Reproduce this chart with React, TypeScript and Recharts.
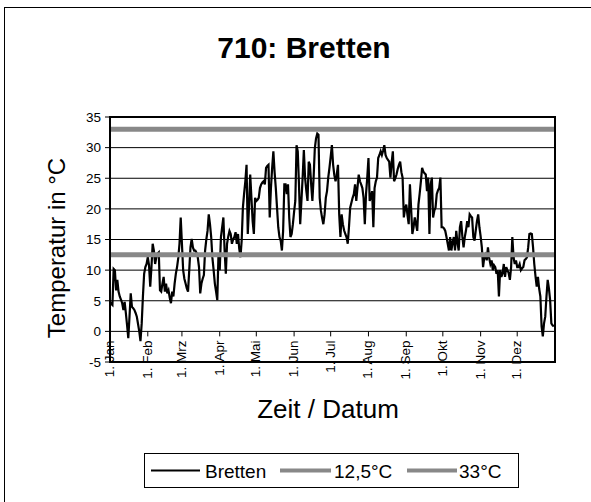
import { LineChart, Line, XAxis, YAxis, CartesianGrid, ReferenceLine } from "recharts";

const chartTitle = "710: Bretten";
const seriesName = "Bretten";
const xTitle = "Zeit / Datum";
const yTitle = "Temperatur in °C";

const monthNames = ["Jan", "Feb", "Mrz", "Apr", "Mai", "Jun", "Jul", "Aug", "Sep", "Okt", "Nov", "Dez"];
const monthStartDays = [0, 31, 59, 90, 120, 151, 181, 212, 243, 273, 304, 334];
const yearDays = 365;
const yTicks = [-5, 0, 5, 10, 15, 20, 25, 30, 35];

const thresholdLow = 12.5;
const thresholdHigh = 33;
const thresholdLabels = ["12,5°C", "33°C"];

// daily mean temperature, 1. Jan .. 31. Dez
const dailyTemps = [
  4.8, 4.5, 4.3, 10.2, 10.0, 6.7, 8.4, 6.5, 5.7, 5.2,
  4.6, 3.5, 4.8, 3.0, 1.0, -1.1, 2.4, 6.2, 4.0, 3.8,
  3.5, 3.0, 2.4, 1.2, 0.0, -1.6, 1.3, 5.7, 9.4, 10.5,
  11.0, 12.1, 10.8, 7.3, 10.5, 14.3, 13.2, 11.0, 12.1, 12.7,
  12.9, 6.7, 6.5, 7.8, 8.9, 6.5, 7.8, 6.2, 6.7, 5.5,
  4.6, 6.5, 5.7, 7.8, 9.4, 10.5, 12.0, 14.3, 18.6, 14.3,
  10.0, 8.6, 7.8, 7.0, 6.5, 10.0, 13.7, 15.1, 13.7, 13.2,
  13.2, 12.8, 12.1, 10.5, 6.2, 7.8, 8.6, 9.2, 13.2, 15.0,
  16.4, 19.1, 17.5, 15.4, 12.0, 10.0, 7.8, 6.5, 5.1, 12.7,
  10.0, 15.4, 17.0, 18.6, 13.2, 9.4, 14.3, 15.5, 16.4, 15.9,
  14.3, 15.0, 15.4, 16.2, 14.3, 15.9, 13.5, 12.1, 14.8, 20.2,
  22.5, 24.5, 27.2, 15.9, 20.2, 25.6, 21.8, 18.0, 15.9, 21.8,
  21.3, 21.5, 21.8, 23.4, 24.0, 24.3, 24.5, 24.0, 26.7, 27.0,
  27.2, 18.6, 23.4, 26.7, 29.4, 26.0, 23.4, 20.2, 17.0, 15.4,
  14.8, 13.2, 16.4, 24.0, 24.0, 22.4, 24.0, 18.6, 15.4, 15.9,
  17.5, 19.5, 21.3, 30.4, 29.4, 24.0, 17.5, 21.3, 25.1, 29.6,
  25.1, 23.0, 21.3, 27.7, 27.2, 24.0, 21.3, 25.1, 29.9, 31.5,
  32.3, 32.1, 21.8, 19.7, 18.5, 17.5, 19.1, 21.8, 22.9, 25.1,
  26.7, 28.5, 30.4, 27.2, 25.5, 24.5, 25.6, 27.2, 19.1, 15.4,
  19.1, 17.5, 16.5, 15.9, 15.4, 14.3, 17.0, 20.2, 21.0, 21.8,
  22.4, 24.0, 21.3, 23.5, 25.6, 24.5, 24.0, 23.4, 21.8, 17.5,
  22.4, 25.1, 28.3, 21.3, 22.0, 22.9, 17.0, 23.4, 24.5, 25.1,
  28.3, 28.8, 29.4, 28.8, 29.5, 30.4, 28.8, 28.3, 28.0, 27.7,
  25.1, 27.5, 29.4, 24.5, 25.0, 25.6, 26.5, 27.2, 27.7, 26.0,
  25.1, 18.6, 20.0, 20.7, 19.0, 17.5, 24.0, 20.0, 15.9, 17.0,
  18.6, 17.5, 16.4, 20.7, 22.5, 24.5, 26.7, 26.1, 25.8, 25.6,
  22.9, 25.1, 15.9, 24.0, 25.1, 18.6, 19.7, 20.2, 22.4, 23.0,
  23.4, 25.1, 17.0, 17.0, 16.8, 16.4, 15.4, 14.3, 13.2, 15.4,
  13.2, 14.5, 15.4, 13.2, 16.4, 14.5, 13.2, 17.0, 18.0, 15.5,
  13.7, 15.4, 16.5, 18.0, 17.0, 19.1, 18.8, 18.6, 15.4, 14.8,
  16.5, 18.0, 19.1, 17.0, 15.5, 13.7, 10.5, 12.1, 12.5, 11.6,
  13.7, 12.0, 11.0, 11.6, 10.0, 10.8, 10.5, 9.4, 10.0, 5.7,
  10.0, 8.9, 9.5, 11.0, 8.9, 10.5, 10.0, 9.5, 8.4, 10.5,
  15.4, 12.1, 11.0, 11.6, 10.5, 10.5, 11.0, 10.0, 10.3, 10.5,
  11.6, 11.8, 12.1, 13.7, 15.9, 16.0, 15.9, 13.7, 11.0, 9.0,
  7.3, 8.9, 7.0, 5.7, 0.8, -0.8, 1.3, 2.4, 5.7, 8.4,
  7.0, 5.1, 1.3, 1.0, 0.8,
];

const W = 591;
const H = 502;
const PLOT_TOP = 117;
const PLOT_BOTTOM = 362;
const PLOT_LEFT = 110;
const PLOT_RIGHT = 555;
const FONT = "'Liberation Sans', Arial, sans-serif";
const GRAY = "#888888";

const data = dailyTemps.map((t, i) => ({ day: i, temp: t }));
const yMin = yTicks[0];
const yMax = yTicks[yTicks.length - 1];

// month ticks sit on the 0 °C line, not the bottom of the plot
function MonthTick(props: any) {
  const { x, y, payload } = props;
  const pxPerDeg = (PLOT_BOTTOM - PLOT_TOP) / (yMax - yMin);
  const zeroY = y - (0 - yMin) * pxPerDeg;
  const idx = monthStartDays.indexOf(payload.value);
  return (
    <g>
      <line x1={x} x2={x} y1={zeroY} y2={zeroY + 5} stroke="#000" strokeWidth={1} />
      <text
        x={x + 4}
        y={zeroY + 9}
        transform={`rotate(-90, ${x + 4}, ${zeroY + 9})`}
        textAnchor="end"
        fontSize={13.5}
        fill="#000"
      >
        {`1. ${monthNames[idx]}`}
      </text>
    </g>
  );
}

export default function App() {
  return (
    <div style={{ position: "absolute", left: 0, top: 0, width: W, height: H, background: "#fff", fontFamily: FONT }}>
      <LineChart
        width={W}
        height={H}
        data={data}
        margin={{ top: PLOT_TOP, right: W - PLOT_RIGHT, bottom: H - PLOT_BOTTOM - 30, left: PLOT_LEFT - 60 }}
      >
        <CartesianGrid vertical={false} stroke="#000" strokeWidth={1} strokeOpacity={1} />
        <XAxis
          type="number"
          dataKey="day"
          domain={[0, yearDays]}
          ticks={monthStartDays}
          interval={0}
          height={30}
          axisLine={false}
          tickLine={false}
          tickSize={0}
          tickMargin={0}
          tick={<MonthTick />}
          allowDataOverflow
        />
        <YAxis
          type="number"
          domain={[yMin, yMax]}
          ticks={yTicks}
          interval={0}
          width={60}
          axisLine={false}
          tickLine={{ stroke: "#000" }}
          tickSize={5}
          tickMargin={4}
          tick={{ fill: "#000", fontSize: 13.5 }}
        />
        <Line
          type="linear"
          dataKey="temp"
          name={seriesName}
          stroke="#000"
          strokeWidth={2.2}
          dot={false}
          isAnimationActive={false}
        />
        <ReferenceLine y={thresholdLow} stroke={GRAY} strokeWidth={5} />
        <ReferenceLine y={thresholdHigh} stroke={GRAY} strokeWidth={5} />
      </LineChart>

      <svg width={W} height={H} style={{ position: "absolute", left: 0, top: 0, pointerEvents: "none" }}>
        <rect x={4.5} y={7.5} width={800} height={800} fill="none" stroke="#000" strokeWidth={1} />
        {/* plot frame */}
        <line x1={PLOT_LEFT} x2={PLOT_LEFT} y1={PLOT_TOP - 1} y2={PLOT_BOTTOM + 1} stroke="#000" strokeWidth={2} />
        <line x1={PLOT_RIGHT} x2={PLOT_RIGHT} y1={PLOT_TOP - 1} y2={PLOT_BOTTOM + 1} stroke="#000" strokeWidth={2} />
        <line x1={PLOT_LEFT - 1} x2={PLOT_RIGHT + 1} y1={PLOT_TOP} y2={PLOT_TOP} stroke="#000" strokeWidth={2} />
        <line x1={PLOT_LEFT - 1} x2={PLOT_RIGHT + 1} y1={PLOT_BOTTOM} y2={PLOT_BOTTOM} stroke="#000" strokeWidth={2} />
        <text x={304} y={58} textAnchor="middle" fontSize={30} fontWeight="bold" fill="#000">
          {chartTitle}
        </text>
        <text x={65} y={248} textAnchor="middle" fontSize={24} fill="#000" transform="rotate(-90, 65, 248)">
          {yTitle}
        </text>
        <text x={328} y={418} textAnchor="middle" fontSize={26} fill="#000">
          {xTitle}
        </text>
        <rect x={144.5} y={453.5} width={374} height={34} fill="#fff" stroke="#000" strokeWidth={1} />
        <line x1={151} x2={200} y1={470.5} y2={470.5} stroke="#000" strokeWidth={2} />
        <text x={205} y={478} fontSize={19} fill="#000">{seriesName}</text>
        <line x1={280} x2={331} y1={470.5} y2={470.5} stroke={GRAY} strokeWidth={4} />
        <text x={334} y={478} fontSize={19} fill="#000">{thresholdLabels[0]}</text>
        <line x1={407} x2={457} y1={470.5} y2={470.5} stroke={GRAY} strokeWidth={4} />
        <text x={459} y={478} fontSize={19} fill="#000">{thresholdLabels[1]}</text>
      </svg>
    </div>
  );
}
